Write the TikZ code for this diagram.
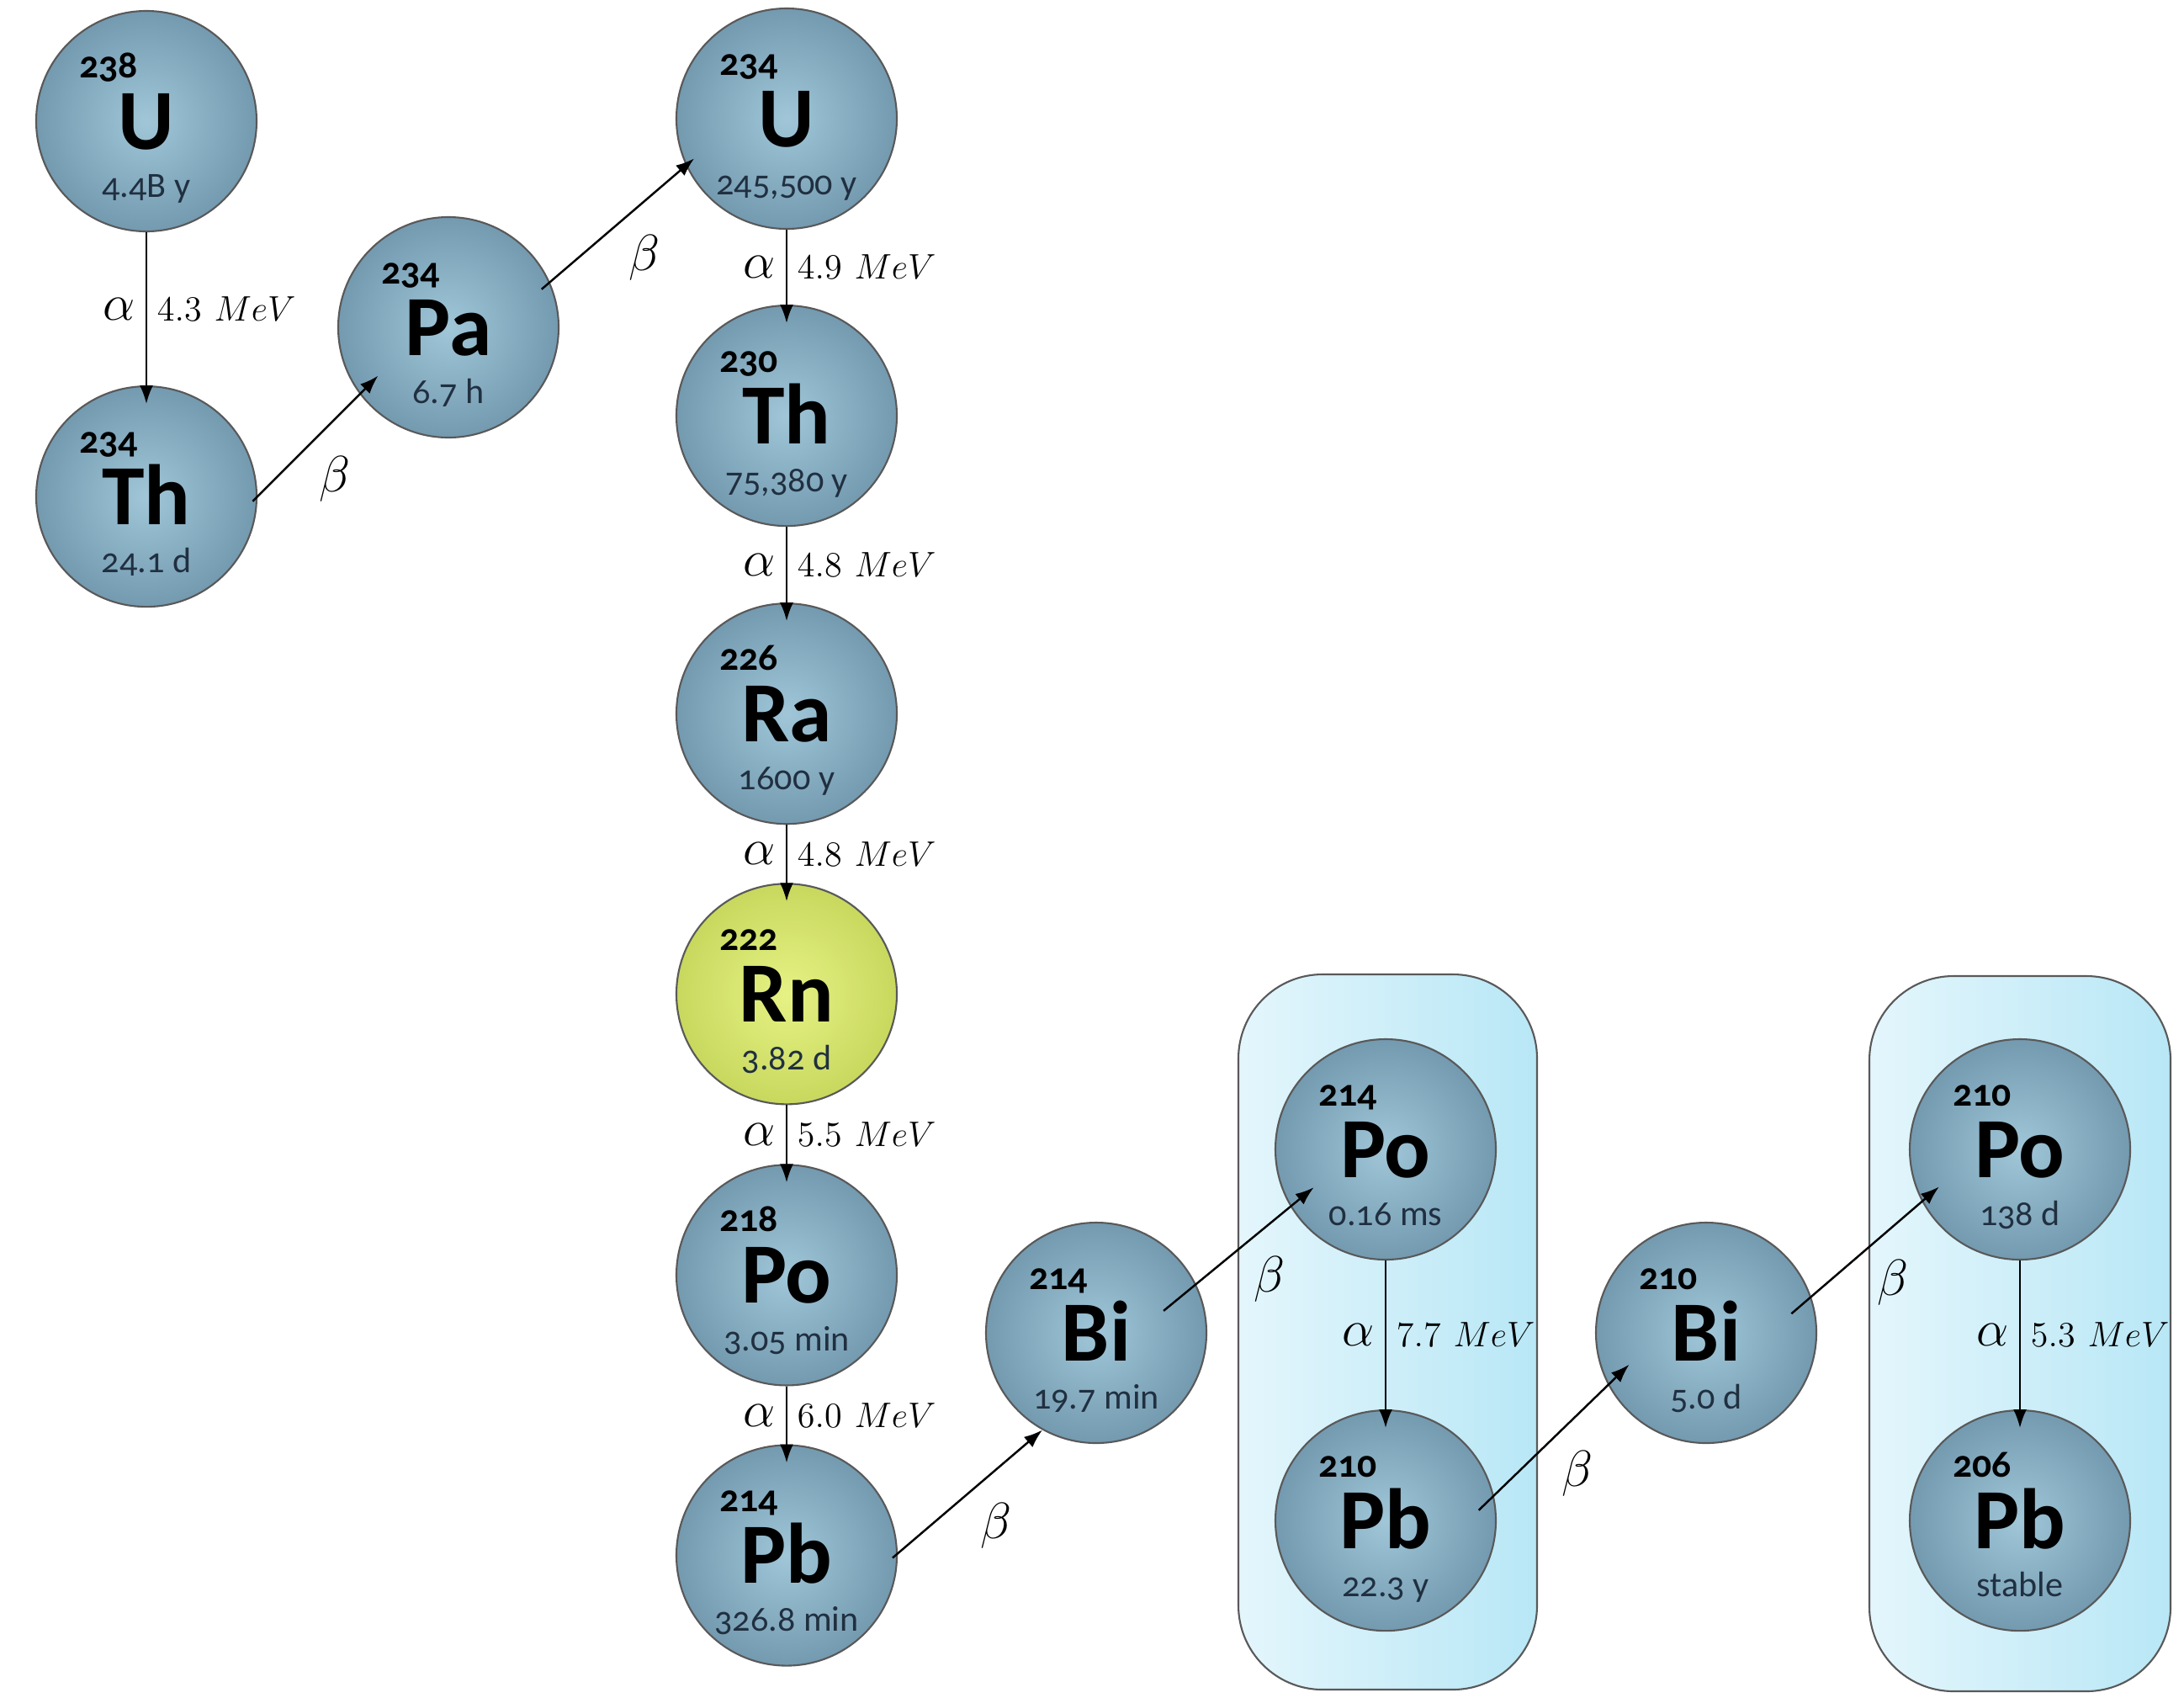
\documentclass[tikz,border=0pt]{standalone}
\usepackage{fontspec}
\newfontfamily\elemfont{Carlito}[Numbers=OldStyle]
\usetikzlibrary{shapes,arrows,positioning,calc,arrows.meta}

\definecolor{nucinner}{RGB}{160,198,216}
\definecolor{nucouter}{RGB}{116,154,176}
\definecolor{rninner}{RGB}{230,242,132}
\definecolor{rnouter}{RGB}{200,216,94}
\definecolor{boxleft}{RGB}{228,246,252}
\definecolor{boxright}{RGB}{184,231,246}
\definecolor{lifecol}{RGB}{32,48,64}

% mass number, symbol and half-life inside one circle
\newcommand{\nuclide}[3]{%
  \makebox[0pt][l]{\hspace*{-0.80cm}\raisebox{0.52cm}{\fontsize{13}{13}\selectfont\bfseries #1}}%
  \makebox[0pt]{\raisebox{-0.33cm}{\fontsize{29}{29}\selectfont\bfseries #2}}%
  \makebox[0pt]{\raisebox{-0.90cm}{\fontsize{12}{12}\selectfont\color{lifecol}#3}}%
}

\tikzset{
  nuc/.style={circle, minimum size=2.62cm, inner sep=0pt, text height=0pt, text depth=0pt,
    draw=black!65, line width=0.6pt, inner color=nucinner, outer color=nucouter, font=\elemfont},
  rn/.style={inner color=rninner, outer color=rnouter},
  group/.style={rectangle, rounded corners=1cm, draw=gray!70!black, line width=0.6pt,
    left color=boxleft, right color=boxright},
  alpha/.style={-{Latex[length=0.22cm,width=0.16cm]}, line width=0.7pt, shorten >=-0.22cm},
  beta/.style={-{Latex[length=0.22cm,width=0.16cm]}, line width=0.7pt},
  lab/.style={font=\fontsize{13}{15}\selectfont},
  sym/.style={font=\fontsize{16}{18}\selectfont}
}

\begin{document}
\begin{tikzpicture}

    \useasboundingbox (0,0) rectangle (25.96,-20.17);

    %-----Groups-----
    \node [group, minimum width=3.55cm, minimum height=8.5cm] (grp1) at (16.495,-15.83) {};
    \node [group, minimum width=3.58cm, minimum height=8.5cm] (grp2) at (24.01,-15.85) {};

    %-----Nuclides-----
    % Uranium 238 branch
    \node [nuc] (u238) at (1.74,-1.44) {\nuclide{238}{U}{4.4B y}};
    \node [nuc, below=1.82cm of u238] (th234) {\nuclide{234}{Th}{24.1 d}};
    \node [nuc] (pa234) at (5.33,-3.89) {\nuclide{234}{Pa}{6.7 h}};

    % Main column
    \node [nuc] (u234) at (9.35,-1.41) {\nuclide{234}{U}{245,500 y}};
    \node [nuc, below=0.89cm of u234] (th230) {\nuclide{230}{Th}{75,380 y}};
    \node [nuc, below=0.90cm of th230] (ra226) {\nuclide{226}{Ra}{1600 y}};
    \node [nuc, rn, below=0.69cm of ra226] (rn222) {\nuclide{222}{Rn}{3.82 d}};
    \node [nuc, below=0.70cm of rn222] (po218) {\nuclide{218}{Po}{3.05 min}};
    \node [nuc, below=0.69cm of po218] (pb214) {\nuclide{214}{Pb}{326.8 min}};

    % Short-lived daughters
    \node [nuc] (bi214) at (13.03,-15.84) {\nuclide{214}{Bi}{19.7 min}};
    \node [nuc] (po214) at (16.47,-13.66) {\nuclide{214}{Po}{0.16 ms}};
    \node [nuc, below=1.77cm of po214] (pb210) {\nuclide{210}{Pb}{22.3 y}};
    \node [nuc] (bi210) at (20.28,-15.84) {\nuclide{210}{Bi}{5.0 d}};
    \node [nuc] (po210) at (24.01,-13.66) {\nuclide{210}{Po}{138 d}};
    \node [nuc, below=1.77cm of po210] (pb206) {\nuclide{206}{Pb}{stable}};

    %-----Alpha decays-----
\draw[alpha] (u238) -- (th234) node[midway, left, sym] {$\alpha$} node[midway, right, lab] {$4.3\ MeV$};
\draw[alpha] (u234) -- (th230) node[midway, left, sym] {$\alpha$} node[midway, right, lab] {$4.9\ MeV$};
\draw[alpha] (th230) -- (ra226) node[midway, left, sym] {$\alpha$} node[midway, right, lab] {$4.8\ MeV$};
\draw[alpha] (ra226) -- (rn222) node[midway, left, sym] {$\alpha$} node[midway, right, lab] {$4.8\ MeV$};
\draw[alpha] (rn222) -- (po218) node[midway, left, sym] {$\alpha$} node[midway, right, lab] {$5.5\ MeV$};
\draw[alpha] (po218) -- (pb214) node[midway, left, sym] {$\alpha$} node[midway, right, lab] {$6.0\ MeV$};
\draw[alpha] (po214) -- (pb210) node[midway, left, sym] {$\alpha$} node[midway, right, lab] {$7.7\ MeV$};
\draw[alpha] (po210) -- (pb206) node[midway, left, sym] {$\alpha$} node[midway, right, lab] {$5.3\ MeV$};

    %-----Beta decays-----
\draw[beta, shorten <=-0.08cm, shorten >=-0.31cm] (th234.0) -- (pa234.217) node[midway, below right, sym] {$\beta$};
\draw[beta, shorten <=-0.13cm, shorten >=-0.13cm] (pa234.24) -- (u234.205) node[midway, below right, sym] {$\beta$};
\draw[beta, shorten <=-0.08cm] (pb214.1) -- (bi214.241) node[midway, below right, sym] {$\beta$};
\draw[beta, shorten <=-0.5cm, shorten >=-0.36cm] (bi214.26) -- (po214.211) node[midway, below right, sym] {$\beta$};
\draw[beta, shorten <=-0.25cm, shorten >=-0.35cm] (pb210.13) -- (bi210.208) node[midway, below right, sym] {$\beta$};
\draw[beta, shorten <=-0.31cm, shorten >=-0.27cm] (bi210.19) -- (po210.208) node[midway, below right, sym] {$\beta$};

\end{tikzpicture}
\end{document}
